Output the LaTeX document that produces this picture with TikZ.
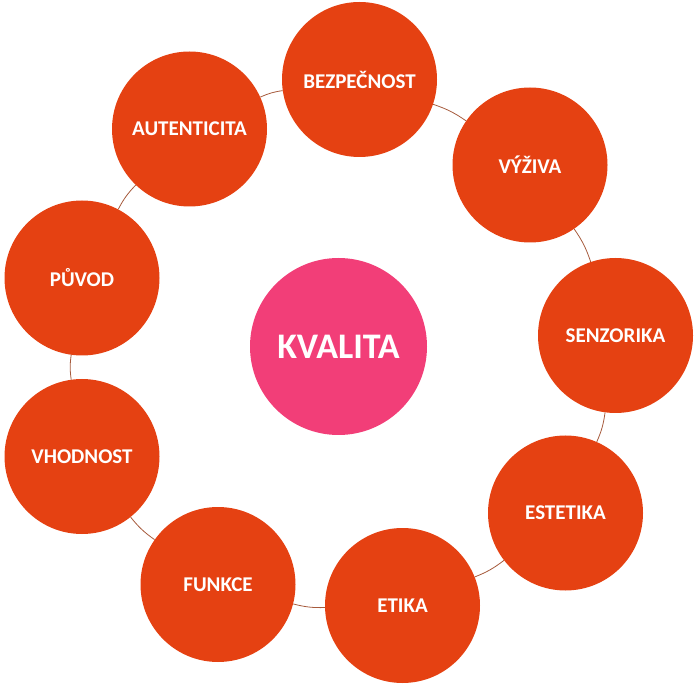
\documentclass[tikz,border=0pt]{standalone}
\usepackage{fontspec}
\setmainfont{Carlito}
\usepackage{tikz}
\definecolor{bubblered}{HTML}{E54112}
\definecolor{bubblepink}{HTML}{F23E78}
\definecolor{linkbrown}{HTML}{A65A3C}
\tikzset{
  bubble/.style={circle,fill=bubblered,minimum size=155pt,inner sep=0pt,
    text=white,font=\fontsize{21}{21}\selectfont\bfseries},
  hub/.style={circle,fill=bubblepink,minimum size=177pt,inner sep=0pt,
    text=white,font=\fontsize{36}{36}\selectfont\bfseries},
  link/.style={draw=linkbrown,line width=0.8pt}
}

\begin{document}
\begin{tikzpicture}[x=1pt,y=-1pt]
      \useasboundingbox (0,0) rectangle (699,692);
      \node[hub] (kval) at (338.5,346.5) {KVALITA};
      \node[bubble] (bezp) at (359.5,79.5) {BEZPEČNOST};
      \node[bubble] (vyz) at (530,165) {VÝŽIVA};
      \node[bubble] (senz) at (615.5,335.5) {SENZORIKA};
      \node[bubble] (est) at (565.5,513) {ESTETIKA};
      \node[bubble] (etik) at (402.5,605.5) {ETIKA};
      \node[bubble] (funk) at (218,584.5) {FUNKCE};
      \node[bubble] (vhod) at (82,456.5) {VHODNOST};
      \node[bubble] (puv) at (82,278) {PŮVOD};
      \node[bubble] (aut) at (189.5,129) {AUTENTICITA};
      \foreach \a/\b in {aut/bezp,bezp/vyz,vyz/senz,senz/est,est/etik,
                         etik/funk,funk/vhod,vhod/puv,puv/aut} {
        \draw[link] (\a) to[bend left=8] (\b);
      }
    \end{tikzpicture}
\end{document}
